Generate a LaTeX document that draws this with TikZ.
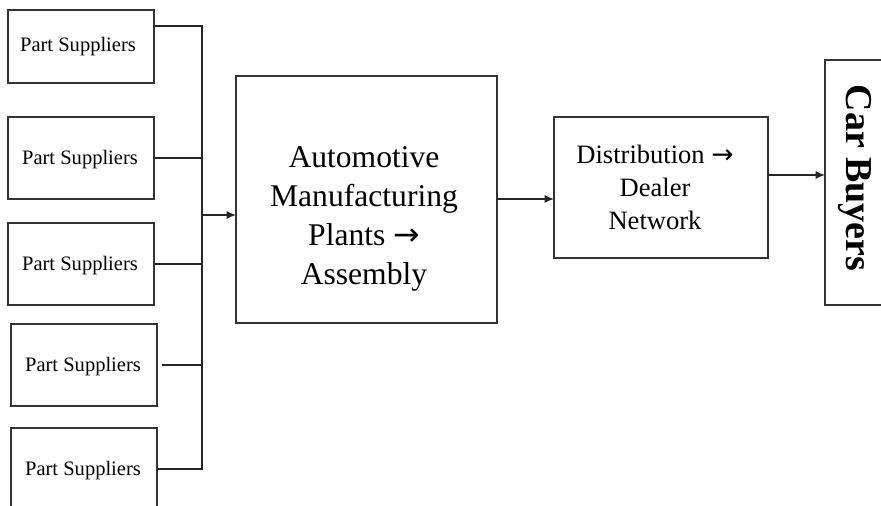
\documentclass[tikz,border=0pt]{standalone}
\usepackage{fontspec}
\setmainfont{Liberation Serif}
\newfontfamily\arrowfont{DejaVu Sans}
\usetikzlibrary{arrows.meta}
\newcommand{\rarr}{{\arrowfont\symbol{"2192}}}
\begin{document}
\begin{tikzpicture}[x=0.75pt,y=-0.75pt,
  box/.style={draw=black!80, line width=1pt, inner sep=0pt, outer sep=0pt},
  conn/.style={draw=black!85, line width=1pt},
  arr/.style={conn, -{Latex[length=7pt,width=6pt]}},
  pstext/.style={font=\fontsize{15.4}{18}\selectfont},
  maintext/.style={font=\fontsize{23.7}{29.3}\selectfont, align=center},
  disttext/.style={font=\fontsize{19.9}{24.8}\selectfont, align=center},
  cbtext/.style={font=\fontsize{28.5}{30}\selectfont\bfseries, rotate=-90}]
\useasboundingbox (0,0) rectangle (881,506);
% part supplier boxes
\node[box, minimum width={146*0.75pt}, minimum height={73*0.75pt}] (ps1) at (81,46.5) {};
\node[box, minimum width={146*0.75pt}, minimum height={82*0.75pt}] (ps2) at (81,158) {};
\node[box, minimum width={146*0.75pt}, minimum height={82*0.75pt}] (ps3) at (81,264) {};
\node[box, minimum width={146*0.75pt}, minimum height={82*0.75pt}] (ps4) at (84,365) {};
\node[box, minimum width={146*0.75pt}, minimum height={82*0.75pt}] (ps5) at (84,469) {};
\node[pstext] (t1) at (78,47) {Part Suppliers};
\node[pstext] (t2) at (80,160) {Part Suppliers};
\node[pstext] (t3) at (80,266) {Part Suppliers};
\node[pstext] (t4) at (83,367) {Part Suppliers};
\node[pstext] (t5) at (83,471) {Part Suppliers};
% main boxes
\node[box, minimum width={261*0.75pt}, minimum height={247*0.75pt}] (main) at (366.5,199.5) {};
\node[maintext] (mt) at (364,219) {Automotive\\Manufacturing\\Plants \rarr\\Assembly};
\node[box, minimum width={214*0.75pt}, minimum height={141*0.75pt}] (dist) at (661,187.5) {};
\node[disttext] (dt) at (655,187) {Distribution \rarr\\Dealer\\Network};
\node[box, minimum width={80*0.75pt}, minimum height={245*0.75pt}] (cb) at (865,182.5) {};
\node[cbtext] (cbt) at (855,178) {Car Buyers};
% bus
\coordinate (bt) at (202,26);
\coordinate (bb) at (202,469);
\coordinate (bm) at (202,215);
\coordinate (g4) at (162,365);
\draw[conn] (ps1.east |- bt) -- (bt) -- (bb) -- (ps5.east |- bb);
\draw[conn] (ps2.east) -- (ps2.east -| bt);
\draw[conn] (ps3.east) -- (ps3.east -| bt);
\draw[conn] (g4) -- (g4 -| bt);
\draw[arr] (bm) -- (main.west |- bm);
\draw[arr] (main.east |- 0,199) -- (dist.west |- 0,199);
\draw[arr] (dist.east |- 0,175) -- (cb.west |- 0,175);
\end{tikzpicture}
\end{document}
